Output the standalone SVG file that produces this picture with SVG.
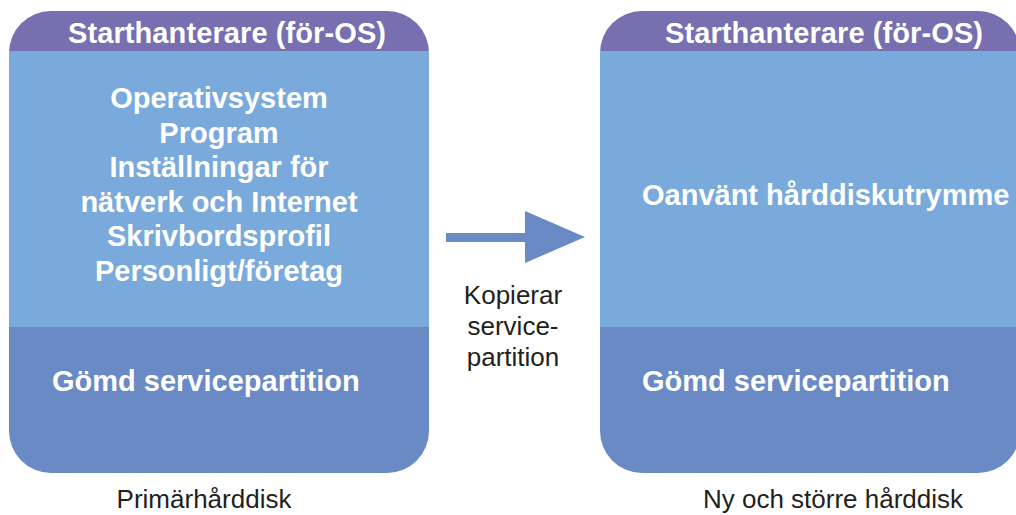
<svg xmlns="http://www.w3.org/2000/svg" width="1016" height="515" viewBox="0 0 1016 515">
<defs>
<style>
.hdr{fill:#776fb0}
.lt{fill:#7aaadb}
.dk{fill:#6a8ac6}
.w{font-family:"Liberation Sans",Arial,sans-serif;font-weight:bold;font-size:29px;fill:#fff}
.lbl{font-family:"Liberation Sans",Arial,sans-serif;font-size:26px;fill:#231f20}
</style>
<clipPath id="c1"><rect x="9" y="11" width="420" height="462" rx="42" ry="42"/></clipPath>
<clipPath id="c2"><rect x="600" y="11" width="420" height="462" rx="42" ry="42"/></clipPath>
</defs>
<rect width="1016" height="515" fill="#fff"/>
<g id="disk-left">
<g clip-path="url(#c1)">
<rect class="hdr" x="9" y="11" width="420" height="40"/>
<rect class="lt" x="9" y="51" width="420" height="276"/>
<rect class="dk" x="9" y="327" width="420" height="146"/>
</g>
<text class="w" x="68" y="43" textLength="318">Starthanterare (för-OS)</text>
<g class="w" text-anchor="middle">
<text x="219" y="108">Operativsystem</text>
<text x="219" y="142.6">Program</text>
<text x="219" y="177.2">Inställningar för</text>
<text x="219" y="211.8">nätverk och Internet</text>
<text x="219" y="246.4">Skrivbordsprofil</text>
<text x="219" y="281">Personligt/företag</text>
</g>
<text class="w" x="52" y="391">Gömd servicepartition</text>
<text class="lbl" x="204" y="508" text-anchor="middle">Primärhårddisk</text>
</g>
<g id="disk-right">
<g clip-path="url(#c2)">
<rect class="hdr" x="600" y="11" width="420" height="40"/>
<rect class="lt" x="600" y="51" width="420" height="276"/>
<rect class="dk" x="600" y="327" width="420" height="146"/>
</g>
<text class="w" x="665" y="43" textLength="318">Starthanterare (för-OS)</text>
<text class="w" x="642" y="205">Oanvänt hårddiskutrymme</text>
<text class="w" x="642" y="391">Gömd servicepartition</text>
<text class="lbl" x="833" y="508" text-anchor="middle">Ny och större hårddisk</text>
</g>
<g id="connectors">
<polygon class="dk" points="446,233 525,233 525,211 585,237 525,263 525,242 446,242"/>
<g class="lbl" text-anchor="middle">
<text x="513" y="304">Kopierar</text>
<text x="513" y="335">service-</text>
<text x="513" y="366">partition</text>
</g>
</g>
</svg>
